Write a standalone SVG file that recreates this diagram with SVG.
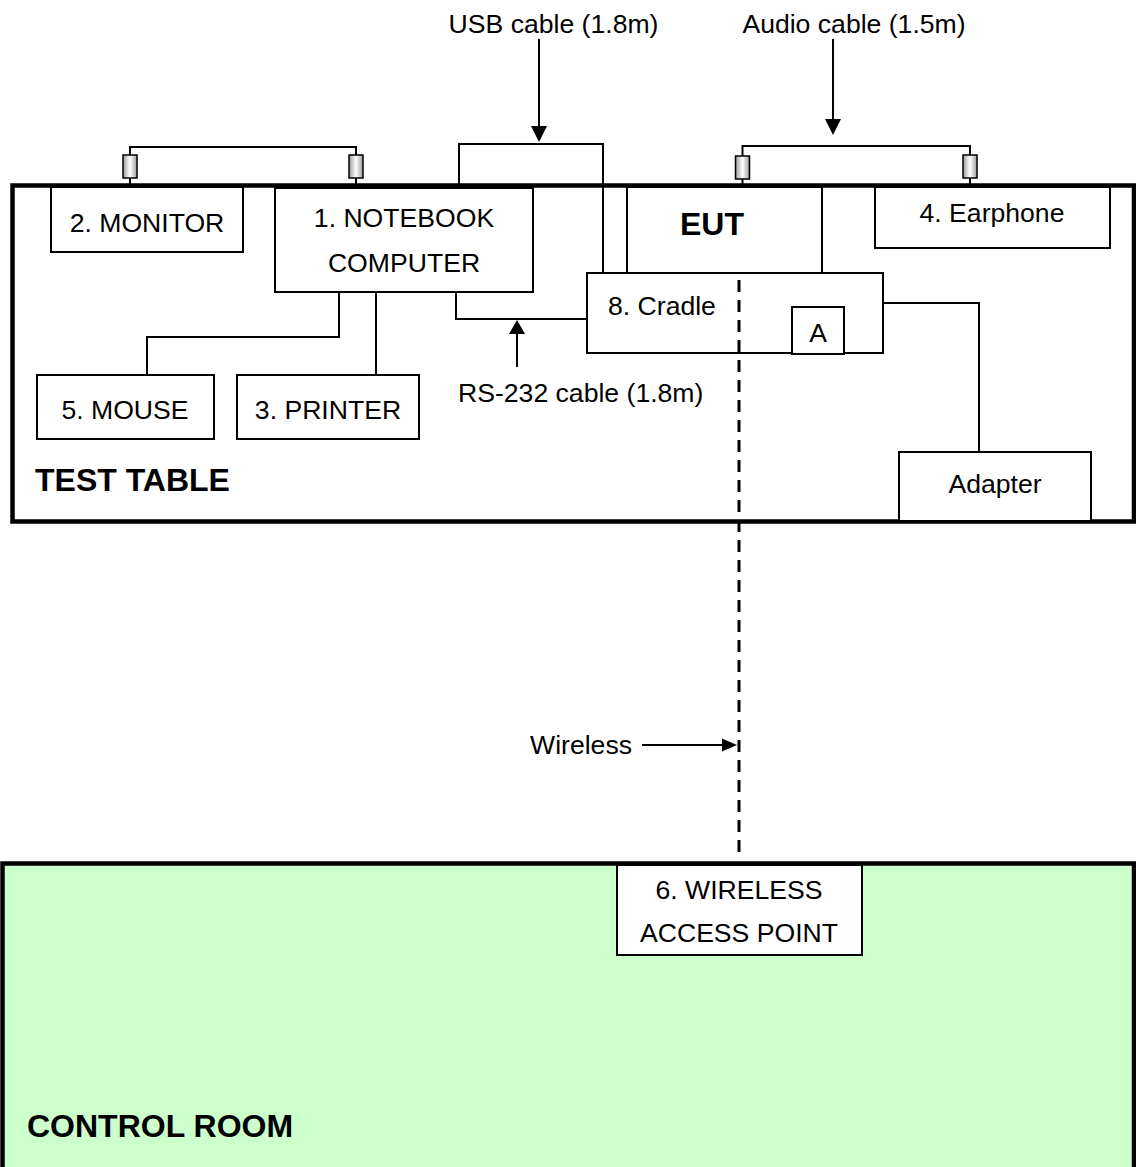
<svg xmlns="http://www.w3.org/2000/svg" width="1136" height="1167" viewBox="0 0 1136 1167">
<style>
  .box { fill: #fff; stroke: #000; stroke-width: 2; }
  .room { stroke: #000; stroke-width: 4.5; }
  .wire { fill: none; stroke: #000; stroke-width: 2; }
  .dash { fill: none; stroke: #000; stroke-width: 3; stroke-dasharray: 12 8; }
  .plug { fill: url(#plugGrad); stroke: #000; stroke-width: 1.5; }
  .lbl { font-family: "Liberation Sans", Arial, sans-serif; font-size: 26.6px; fill: #000; }
  .mid { text-anchor: middle; }
  .bold { font-weight: bold; font-size: 32px; }
</style>
<defs>
  <linearGradient id="plugGrad" x1="0" y1="0" x2="1" y2="0">
    <stop offset="0" stop-color="#9a9a9a"/>
    <stop offset="0.5" stop-color="#ffffff"/>
    <stop offset="1" stop-color="#9a9a9a"/>
  </linearGradient>
</defs>

<g id="test-table">
  <rect class="room" x="12.5" y="185.5" width="1121.5" height="336" fill="#fff"/>
  <text class="lbl bold" x="35" y="491">TEST TABLE</text>
</g>

<g id="control-room">
  <rect class="room" x="2.5" y="863.5" width="1131.5" height="320" fill="#CCFFCC"/>
  <text class="lbl bold" x="27" y="1137">CONTROL ROOM</text>
</g>

<g id="connectors">
  <path class="wire" d="M130,185 V147 H356 V185"/>
  <path class="wire" d="M742.5,185 V146 H970 V185"/>
  <path class="wire" d="M459,185 V144 H603 V273"/>
  <path class="wire" d="M339,292 V337 H147 V375"/>
  <path class="wire" d="M376,292 V375"/>
  <path class="wire" d="M456,292 V319 H587"/>
  <path class="wire" d="M883,303 H979 V452"/>
  <path class="wire" d="M539,39 V128"/>
  <polygon points="531,126 547,126 539,142"/>
  <path class="wire" d="M833,39 V121"/>
  <polygon points="825,119 841,119 833,135"/>
  <path class="wire" d="M517,367 V333"/>
  <polygon points="509,334 525,334 517,320"/>
  <path class="dash" d="M739,280 V852"/>
  <path class="wire" d="M642,745 H724"/>
  <polygon points="722,738.5 722,751.5 737,745"/>
  <rect class="plug" x="123" y="155" width="14" height="23"/>
  <rect class="plug" x="349" y="155" width="14" height="23"/>
  <rect class="plug" x="735.5" y="156" width="14" height="23"/>
  <rect class="plug" x="963" y="155" width="14" height="23"/>
  <text class="lbl mid" x="553.5" y="33">USB cable (1.8m)</text>
  <text class="lbl mid" x="854" y="33">Audio cable (1.5m)</text>
  <text class="lbl" x="458" y="402">RS-232 cable (1.8m)</text>
  <text class="lbl" x="632" y="754" text-anchor="end">Wireless</text>
</g>

<g id="monitor">
  <rect class="box" x="51" y="187" width="192" height="65"/>
  <text class="lbl mid" x="147" y="232">2. MONITOR</text>
</g>
<g id="notebook">
  <rect class="box" x="275" y="188" width="258" height="104"/>
  <text class="lbl mid" x="404" y="227">1. NOTEBOOK</text>
  <text class="lbl mid" x="404" y="272">COMPUTER</text>
</g>
<g id="eut">
  <rect class="box" x="627" y="187" width="195" height="86"/>
  <text class="lbl bold mid" x="712" y="235">EUT</text>
</g>
<g id="earphone">
  <rect class="box" x="875" y="187" width="235" height="61"/>
  <text class="lbl mid" x="992" y="222">4. Earphone</text>
</g>
<g id="cradle">
  <rect class="box" x="587" y="273" width="296" height="80"/>
  <text class="lbl" x="608" y="315">8. Cradle</text>
</g>
<g id="dash-over">
  <path class="dash" d="M739,280 V352"/>
</g>
<g id="a-box">
  <rect class="box" x="792" y="307" width="52" height="47"/>
  <text class="lbl mid" x="818" y="342">A</text>
</g>
<g id="mouse">
  <rect class="box" x="37" y="375" width="177" height="64"/>
  <text class="lbl mid" x="125" y="419">5. MOUSE</text>
</g>
<g id="printer">
  <rect class="box" x="237" y="375" width="182" height="64"/>
  <text class="lbl mid" x="328" y="419">3. PRINTER</text>
</g>
<g id="adapter">
  <rect class="box" x="899" y="452" width="192" height="69"/>
  <text class="lbl mid" x="995" y="493">Adapter</text>
</g>
<g id="wireless-ap">
  <rect class="box" x="617" y="865" width="245" height="90"/>
  <text class="lbl mid" x="739" y="899">6. WIRELESS</text>
  <text class="lbl mid" x="739" y="942">ACCESS POINT</text>
</g>
</svg>
